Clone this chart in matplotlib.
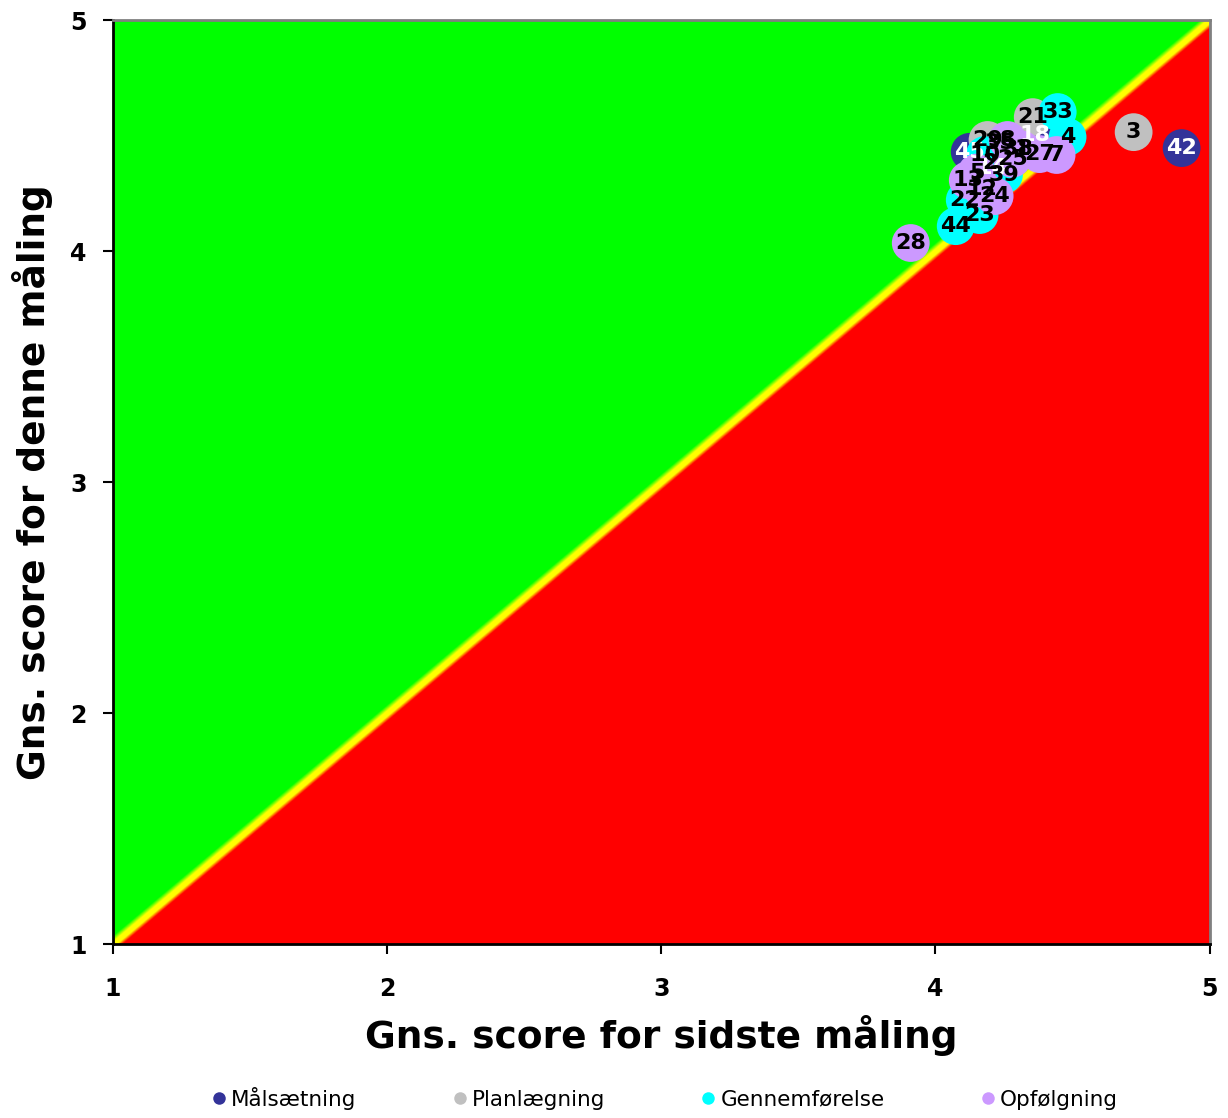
import numpy as np
import matplotlib
matplotlib.use("Agg")
import matplotlib.pyplot as plt
from matplotlib.colors import LinearSegmentedColormap
from matplotlib.lines import Line2D

# ---- data (x = sidste måling, y = denne måling) ----
series_names = ["Målsætning", "Planlægning", "Gennemførelse", "Opfølgning"]
series_colors = ["#333399", "#C0C0C0", "#00FFFF", "#CC99FF"]
label_colors = ["white", "black", "black", "black"]

malsaetning_x = [4.898, 4.125, 4.362, 4.205]
malsaetning_y = [4.446, 4.430, 4.502, 4.360]
malsaetning_lbl = ["42", "45", "18", "14"]

planlaegning_x = [4.723, 4.355, 4.190, 4.235, 4.300]
planlaegning_y = [4.515, 4.580, 4.481, 4.470, 4.440]
planlaegning_lbl = ["3", "21", "29", "35", "38"]

gennemforelse_x = [4.446, 4.482, 4.180, 4.250, 4.107, 4.161, 4.074, 4.200]
gennemforelse_y = [4.602, 4.494, 4.416, 4.330, 4.221, 4.156, 4.108, 4.380]
gennemforelse_lbl = ["33", "4", "10", "39", "22", "23", "44", "2"]

opfolgning_x = [3.910, 4.442, 4.380, 4.118, 4.216, 4.263, 4.280, 4.170, 4.150, 4.315]
opfolgning_y = [4.035, 4.416, 4.420, 4.307, 4.238, 4.481, 4.400, 4.270, 4.340, 4.440]
opfolgning_lbl = ["28", "7", "27", "13", "24", "8", "25", "12", "5", "1"]

all_x = [malsaetning_x, planlaegning_x, gennemforelse_x, opfolgning_x]
all_y = [malsaetning_y, planlaegning_y, gennemforelse_y, opfolgning_y]
all_lbl = [malsaetning_lbl, planlaegning_lbl, gennemforelse_lbl, opfolgning_lbl]

ticks = [1, 2, 3, 4, 5]

fig = plt.figure(figsize=(12.28, 11.18), dpi=100)
ax = fig.add_axes([0.092, 0.1556, 0.893, 0.8264])

# background: green above diagonal, red below, yellow band on diagonal
n = 1600
g = np.linspace(1, 5, n)
X, Y = np.meshgrid(g, g)
w = 0.05
D = np.clip((Y - X) / w, -1, 1)
cmap = LinearSegmentedColormap.from_list(
    "ryg", [(0.0, "#FF0000"), (0.15, "#FF0000"), (0.35, "#FFFF00"), (0.6, "#FFFF00"),
            (0.85, "#00FF00"), (1.0, "#00FF00")])
ax.imshow(D, extent=[1, 5, 1, 5], origin="lower", aspect="auto", cmap=cmap,
          vmin=-1, vmax=1, interpolation="bilinear", zorder=0)

for xs, ys, lbls, col, lc in zip(all_x, all_y, all_lbl, series_colors, label_colors):
    ax.scatter(xs, ys, s=740, color=col, edgecolors="none", zorder=2)
    for x, y, t in zip(xs, ys, lbls):
        ax.text(x, y, t, ha="center", va="center", fontsize=16, fontweight="bold",
                color=lc, zorder=3)

ax.set_xlim(1, 5)
ax.set_ylim(1, 5)
ax.set_xticks(ticks)
ax.set_yticks(ticks)
ax.set_xticklabels([str(t) for t in ticks], fontsize=17, fontweight="bold")
ax.set_yticklabels([str(t) for t in ticks], fontsize=17, fontweight="bold")
ax.tick_params(axis="x", direction="out", length=7, width=1.5, pad=17)
ax.tick_params(axis="y", direction="out", length=7, width=1.5, pad=12)
for s in ["left", "bottom"]:
    ax.spines[s].set_color("black")
    ax.spines[s].set_linewidth(2)
for s in ["top", "right"]:
    ax.spines[s].set_color("#808080")
    ax.spines[s].set_linewidth(2)

ax.set_xlabel("Gns. score for sidste måling", fontsize=27, fontweight="bold", labelpad=10)
ax.set_ylabel("Gns. score for denne måling", fontsize=27, fontweight="bold", labelpad=12)

handles = [Line2D([0], [0], marker="o", linestyle="none", markersize=9,
                  markerfacecolor=c, markeredgecolor="none") for c in series_colors]
fig.legend(handles, series_names, loc="lower center", bbox_to_anchor=(0.54, -0.01),
           ncol=4, frameon=False, fontsize=15.5, handletextpad=0.05, columnspacing=4.3,
           handlelength=1.0)

fig.savefig("out.png", dpi=100)
